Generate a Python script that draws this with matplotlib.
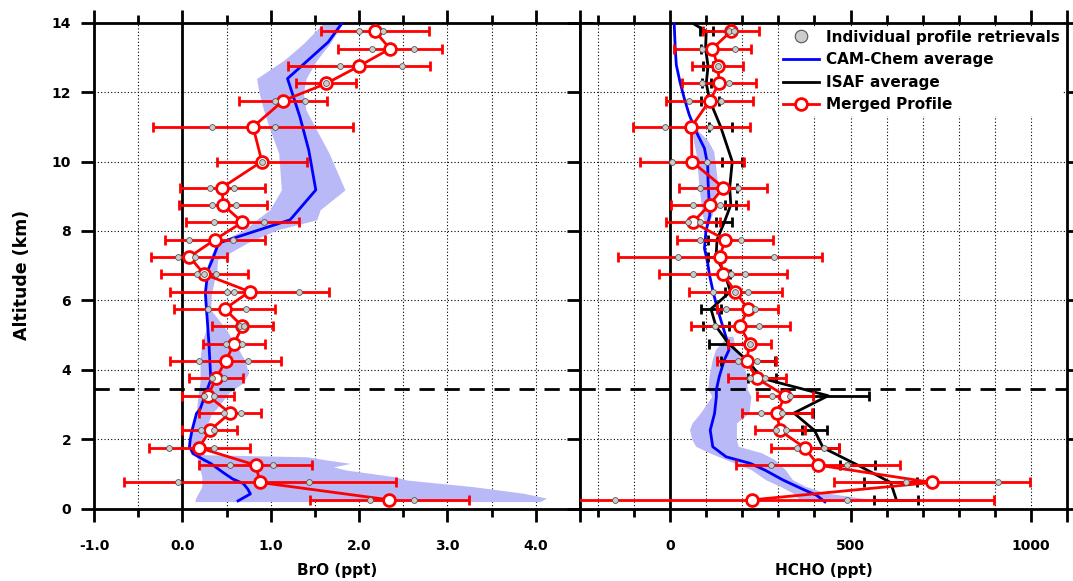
import numpy as np
import matplotlib
matplotlib.use("Agg")
import matplotlib.pyplot as plt
from matplotlib.lines import Line2D

plt.rcParams['font.family'] = ['DejaVu Sans']
plt.rcParams['font.weight'] = 'bold'
plt.rcParams['axes.labelweight'] = 'bold'

# altitude levels of the merged profiles (km)
alt = [0.25, 0.75, 1.25, 1.75, 2.25, 2.75, 3.25, 3.75, 4.25, 4.75, 5.25, 5.75, 6.25,
       6.75, 7.25, 7.75, 8.25, 8.75, 9.25, 10.0, 11.0, 11.75, 12.25, 12.75, 13.25, 13.75]

# BrO merged profile (ppt)
bro = [2.34, 0.88, 0.83, 0.19, 0.31, 0.54, 0.29, 0.38, 0.49, 0.585, 0.68, 0.48, 0.76,
       0.25, 0.08, 0.37, 0.68, 0.46, 0.45, 0.90, 0.80, 1.14, 1.63, 2.00, 2.35, 2.18]
bro_err = [0.90, 1.54, 0.64, 0.57, 0.31, 0.35, 0.29, 0.31, 0.63, 0.355, 0.35, 0.57, 0.90,
           0.49, 0.43, 0.57, 0.64, 0.50, 0.48, 0.51, 1.13, 0.50, 0.34, 0.80, 0.59, 0.61]
bro_indiv = [[2.12, 2.62], [-0.05, 1.43], [0.54, 1.03], [-0.15, 0.36], [0.21, 0.36],
             [0.47, 0.66], [0.25, 0.36], [0.33, 0.47], [0.19, 0.74], [0.49, 0.67],
             [0.65, 0.70], [0.29, 0.72], [0.50, 0.59, 1.32], [0.17, 0.25, 0.38],
             [-0.05, 0.14], [0.08, 0.57], [0.36, 0.92], [0.34, 0.61], [0.31, 0.59],
             [0.90], [0.33, 1.05], [1.05, 1.39], [1.63], [1.78, 2.49], [2.15, 2.62],
             [2.00, 2.27]]

# HCHO merged profile (ppt)
hcho = [228, 726, 410, 373, 304, 296, 319, 240, 212, 220, 194, 215, 181,
        146, 138, 152, 63, 109, 147, 60, 59, 109, 136, 132, 117, 168]
hcho_err = [671, 271, 228, 94, 70, 97, 78, 80, 82, 60, 137, 85, 130,
            177, 282, 134, 75, 106, 122, 144, 161, 120, 103, 71, 106, 78]
hcho_indiv = [[-154, 491], [655, 910], [279, 491], [352, 425], [294, 320], [252, 311],
              [282, 332], [222, 262], [188, 242], [220], [124, 247], [156, 236],
              [120, 181, 217], [64, 168, 207], [23, 288], [84, 197], [48, 82],
              [64, 138], [82, 187], [5, 101], [-15, 109], [53, 142], [88, 164],
              [132], [88, 181], [162, 176]]

# ISAF average HCHO (ppt)
isaf_alt = alt + [14.25]
isaf = [627, 611, 520, 424, 400, 343, 438, 255, 215, 162, 127, 113, 167,
        152, 127, 130, 150, 168, 165, 172, 140, 110, 100, 105, 98, 100, 20]
isaf_err = [61, 73, 48, 45, 35, 53, 112, 38, 75, 55, 35, 28, 15,
            15, 23, 25, 22, 15, 20, 28, 32, 25, 12, 15, 12, 18, 0]

# CAM-Chem BrO average and range
cam_bro_alt = [0.22, 0.42, 0.56, 0.72, 0.85, 1.04, 1.30, 1.42, 1.59, 1.78, 2.0, 2.26, 2.74,
               2.86, 3.70, 3.82, 4.78, 6.21, 6.88, 7.17, 7.65, 8.32, 9.18, 10.33, 11.29,
               12.39, 13.44, 14.0]
cam_bro = [0.63, 0.77, 0.74, 0.69, 0.57, 0.46, 0.32, 0.23, 0.12, 0.08, 0.09, 0.11, 0.16,
           0.20, 0.32, 0.32, 0.30, 0.26, 0.29, 0.34, 0.41, 1.22, 1.51, 1.43, 1.33,
           1.19, 1.65, 1.81]
band_bro_alt = [0.20, 0.30, 0.44, 0.63, 0.82, 0.92, 1.11, 1.20, 1.30, 1.40, 1.49, 1.55,
                1.78, 2.26, 2.74, 2.86, 3.34, 3.63, 3.91, 4.30, 4.78, 5.25, 5.73, 6.21,
                6.88, 7.17, 7.65, 8.03, 8.32, 8.61, 9.18, 10.24, 11.0, 11.48, 11.96,
                12.39, 12.92, 13.40, 14.0]
band_bro_lo = [0.14, 0.15, 0.18, 0.22, 0.22, 0.22, 0.20, 0.18, 0.18, 0.18, 0.15, 0.10,
               0.07, 0.09, 0.15, 0.16, 0.18, 0.20, 0.20, 0.20, 0.22, 0.28, 0.27, 0.25,
               0.28, 0.30, 0.39, 0.70, 0.84, 0.99, 1.12, 1.09, 0.98, 0.92, 0.87,
               0.84, 1.15, 1.37, 1.60]
band_bro_hi = [4.05, 4.12, 3.86, 3.29, 2.54, 2.39, 1.85, 1.71, 1.90, 1.63, 1.41, 0.25,
               0.20, 0.26, 0.33, 0.38, 0.53, 0.69, 0.75, 0.70, 0.59, 0.47, 0.32, 0.33,
               0.39, 0.40, 0.73, 1.07, 1.52, 1.56, 1.84, 1.66, 1.50, 1.40, 1.37,
               1.40, 1.52, 1.67, 1.82]

# CAM-Chem HCHO average and range
cam_hcho_alt = [0.19, 0.38, 0.53, 0.82, 1.11, 1.30, 1.49, 1.78, 2.26, 2.74, 3.22, 3.42,
                3.80, 4.28, 4.57, 4.76, 5.24, 5.72, 6.20, 6.73, 7.07, 7.50, 7.98, 8.46,
                9.42, 9.90, 10.38, 10.86, 11.34, 11.82, 12.30, 12.78, 13.26, 14.0]
cam_hcho = [429, 406, 373, 313, 262, 222, 155, 118, 111, 123, 128, 128,
            136, 150, 163, 160, 146, 132, 120, 109, 104, 95, 99, 110,
            105, 104, 95, 72, 53, 39, 27, 17, 14, 11]
band_hcho_alt = [0.19, 0.25, 0.44, 0.63, 0.82, 1.11, 1.40, 1.59, 1.78, 1.97, 2.26, 2.45,
                 2.74, 3.22, 3.42, 3.80, 4.28, 4.57, 4.95, 5.00, 8.10, 8.17, 8.46,
                 8.94, 9.42, 9.90, 10.28, 10.57, 11.05]
band_hcho_lo = [385, 360, 340, 305, 265, 225, 155, 110, 72, 62, 55, 62,
                85, 117, 106, 109, 118, 127, 160, np.nan, np.nan, 99, 90,
                85, 80, 76, 72, 66, 57]
band_hcho_hi = [520, 555, 430, 375, 340, 320, 290, 255, 190, 185, 185, 185,
                220, 225, 215, 214, 200, 183, 175, np.nan, np.nan, 108, 118,
                127, 132, 127, 122, 107, 63]

boundary_alt = 3.43

BAND = '#b9b9f7'
DOT_FC = '#cccccc'
DOT_EC = '#555555'


def flat(levels, values):
    xs, ys = [], []
    for a, vals in zip(levels, values):
        for v in vals:
            xs.append(v)
            ys.append(a)
    return xs, ys


def draw_panel(ax, band_alt, band_lo, band_hi, cam_alt, cam, merged, err, indiv):
    ax.fill_betweenx(band_alt, band_lo, band_hi, color=BAND, lw=0, zorder=1)
    ax.axvline(0, color='k', lw=2, zorder=2)
    ax.axhline(boundary_alt, color='k', lw=2, ls=(0, (5.5, 3.5)), zorder=2)
    ax.plot(cam, cam_alt, color='#0000ff', lw=2, zorder=3)
    ax.errorbar(merged, alt, xerr=err, fmt='none', ecolor='#ff0000', elinewidth=2,
                capsize=3.8, capthick=2, zorder=5)
    ax.plot(merged, alt, '-o', color='#ff0000', lw=2, ms=8.5, mfc='white',
            mec='#ff0000', mew=2, zorder=6)
    xs, ys = flat(alt, indiv)
    ax.plot(xs, ys, 'o', ls='none', ms=4.2, mfc=DOT_FC, mec=DOT_EC, mew=0.6, zorder=7)


def style_axis(ax):
    for s in ax.spines.values():
        s.set_linewidth(2)
    ax.set_ylim(0, 14)
    ax.set_yticks(np.arange(0, 15, 2))
    ax.tick_params(which='both', direction='out', width=2, top=True, bottom=True,
                   left=True, right=True, labelsize=10)
    ax.tick_params(which='major', length=9.4)
    ax.tick_params(which='minor', length=5.5)
    ax.tick_params(axis='x', pad=12.5)
    ax.tick_params(axis='y', pad=7)
    ax.grid(which='both', axis='x', color='k', lw=0.8, ls=(0, (1, 2)), zorder=0)
    ax.grid(which='major', axis='y', color='k', lw=0.8, ls=(0, (1, 2)), zorder=0)
    ax.set_axisbelow(True)


fig = plt.figure(figsize=(10.73, 5.81), dpi=100)
ax1 = fig.add_axes([94 / 1073, 1 - 508.5 / 581, 486 / 1073, 485.8 / 581])
ax2 = fig.add_axes([580 / 1073, 1 - 508.5 / 581, 487 / 1073, 485.8 / 581])

draw_panel(ax1, band_bro_alt, band_bro_lo, band_bro_hi, cam_bro_alt, cam_bro,
           bro, bro_err, bro_indiv)

ax2.plot(isaf, isaf_alt, color='k', lw=2, zorder=4)
ax2.errorbar(isaf, isaf_alt, xerr=isaf_err, fmt='none', ecolor='k', elinewidth=2,
             capsize=3.8, capthick=2, zorder=4)
draw_panel(ax2, band_hcho_alt, band_hcho_lo, band_hcho_hi, cam_hcho_alt, cam_hcho,
           hcho, hcho_err, hcho_indiv)

style_axis(ax1)
style_axis(ax2)

ax1.set_xlim(-1.0, 4.5)
ax1.set_xticks([-1, 0, 1, 2, 3, 4, 4.5])
ax1.set_xticklabels(['-1.0', '0.0', '1.0', '2.0', '3.0', '4.0', ''])
ax1.set_xticks([-0.5, 0.5, 1.5, 2.5, 3.5], minor=True)
ax1.set_xlabel('BrO (ppt)', fontsize=11, labelpad=7)
ax1.set_ylabel('Altitude (km)', fontsize=12.5)
ax1.yaxis.set_label_coords(-0.13, 0.48)

ax2.set_xlim(-250, 1100)
ax2.set_xticks([0, 500, 1000, 1100])
ax2.set_xticklabels(['0', '500', '1000', ''])
ax2.set_xticks([-200, -100, 100, 200, 300, 400, 600, 700, 800, 900], minor=True)
ax2.tick_params(labelleft=False)
ax2.set_xlabel('HCHO (ppt)', fontsize=11, labelpad=7)

handles = [
    Line2D([], [], ls='none', marker='o', ms=9, mfc=DOT_FC, mec=DOT_EC, mew=0.8),
    Line2D([], [], color='#0000ff', lw=2),
    Line2D([], [], color='k', lw=2),
    Line2D([], [], color='#ff0000', lw=2, marker='o', ms=8.5, mfc='white',
           mec='#ff0000', mew=2),
]
labels = ['Individual profile retrievals', 'CAM-Chem average', 'ISAF average',
          'Merged Profile']
leg = ax2.legend(handles, labels, loc='upper right', fontsize=11, frameon=True,
                 facecolor='white', edgecolor='none', framealpha=1, fancybox=False,
                 handlelength=2.3, handletextpad=0.5, labelspacing=0.5,
                 borderpad=0.2, borderaxespad=0.25)
leg.set_zorder(10)

fig.savefig('out.png', dpi=100)
